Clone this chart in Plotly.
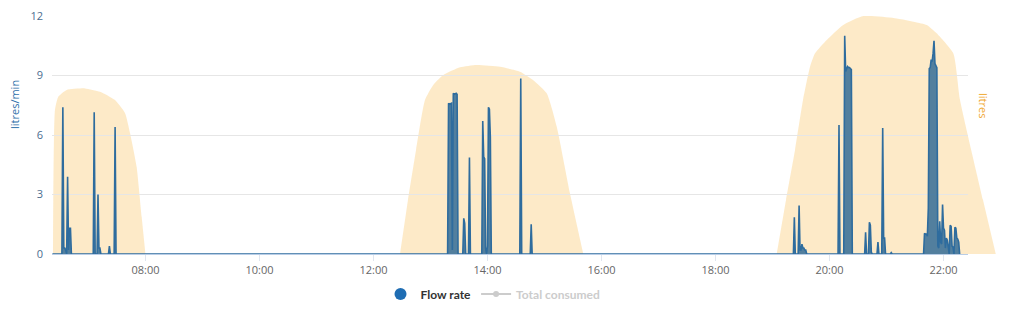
import plotly.graph_objects as go

DAY = "2024-05-14 "

# ---- Flow rate (litres/min) ----
flow_times = [
    "06:22", "06:32", "06:33", "06:34", "06:35", "06:36", "06:37", "06:38", "06:39", "06:40", "06:41", "06:42",
    "07:05", "07:06", "07:07", "07:09", "07:10", "07:11", "07:12", "07:13",
    "07:21", "07:22", "07:23", "07:27", "07:28", "07:29",
    "13:18", "13:19", "13:20", "13:21", "13:22", "13:23", "13:24", "13:25", "13:26", "13:27", "13:28", "13:29",
    "13:34", "13:35", "13:36", "13:37", "13:40", "13:41", "13:42",
    "13:54", "13:55", "13:56", "13:57", "13:58", "13:59", "14:00", "14:01", "14:02", "14:03", "14:04",
    "14:34", "14:35", "14:36", "14:45", "14:46", "14:47",
    "19:22", "19:23", "19:24", "19:27", "19:28", "19:29", "19:30", "19:31", "19:32", "19:33", "19:34", "19:35", "19:36",
    "20:09", "20:10", "20:11", "20:15", "20:16", "20:17", "20:18", "20:19", "20:20", "20:21", "20:22", "20:23", "20:24",
    "20:37", "20:38", "20:39", "20:41", "20:42", "20:43", "20:44", "20:45",
    "20:50", "20:51", "20:52", "20:55", "20:56", "20:57", "20:58", "20:59",
    "21:04", "21:05", "21:06",
    "21:39", "21:40", "21:41", "21:42", "21:43", "21:44", "21:45", "21:46", "21:47", "21:48", "21:49", "21:50",
    "21:51", "21:52", "21:53", "21:54", "21:55", "21:56", "21:57", "21:58", "21:59", "22:00", "22:01", "22:02",
    "22:03", "22:04", "22:05", "22:06", "22:07", "22:08", "22:09", "22:10", "22:11", "22:12", "22:13", "22:14",
    "22:15", "22:16", "22:17",
]
flow_values = [
    0, 0, 7.4, 0.3, 0.3, 0.2, 0, 3.9, 0.2, 1.3, 1.3, 0,
    0, 7.15, 0, 0, 3.0, 0.3, 0.3, 0,
    0, 0.4, 0, 0, 6.4, 0,
    0, 7.6, 7.55, 7.6, 7.6, 0.2, 8.1, 8.05, 8.1, 8.1, 8.05, 0,
    0, 1.8, 1.55, 0, 0, 4.86, 0,
    0, 6.7, 4.9, 4.8, 0.3, 0, 0.4, 7.4, 7.3, 5.9, 0,
    0, 8.85, 0, 0, 1.5, 0,
    0, 1.85, 0, 0, 2.45, 0.2, 0.2, 0.5, 0.3, 0.3, 0.2, 0.2, 0,
    0, 6.5, 0, 0, 11.0, 9.2, 9.35, 9.45, 9.4, 9.4, 9.35, 9.3, 0,
    0, 1.1, 0, 0, 1.6, 1.45, 0.1, 0,
    0, 0.6, 0, 0, 6.35, 0.8, 0.8, 0,
    0, 0.07, 0,
    0, 1.05, 1.0, 1.0, 0.9, 2.3, 9.35, 9.4, 9.8, 9.7, 10.1, 10.75,
    9.6, 9.5, 9.4, 0.4, 0.3, 1.65, 0.6, 0.5, 2.5, 1.3, 1.2, 0.3,
    0.8, 0.7, 0.2, 0, 1.45, 1.4, 0.4, 0.35, 0, 1.35, 1.3, 0.8,
    0.75, 0.6, 0,
]

# ---- Total consumed (litres), three usage periods ----
total_morning_times = [
    "06:22:36", "06:24:42", "06:28:12", "06:37:00", "06:56:18", "07:12:06", "07:27:54", "07:38:24",
    "07:43:42", "07:50:42", "07:56:00", "07:59:54",
]
total_morning_values = [0, 7.26, 7.93, 8.27, 8.35, 8.18, 7.76, 7.11, 6.1, 4.39, 1.86, 0]

total_midday_times = [
    "12:27:54", "12:36:18", "12:44:46", "12:54:12", "13:02:54", "13:13:30", "13:31:06", "13:48:36",
    "14:13:12", "14:34:12", "14:47:54", "15:02:18", "15:12:54", "15:26:48", "15:40:48",
]
total_midday_values = [0, 2.72, 5.24, 7.76, 8.52, 9.02, 9.41, 9.53, 9.44, 9.19, 8.77, 8.1, 6.42, 3.06, 0]

total_evening_times = [
    "19:04:24", "19:14:13", "19:23:42", "19:32:06", "19:39:30", "19:44:48", "19:57:06", "20:14:30",
    "20:35:36", "21:10:42", "21:42:18", "21:52:48", "22:10:18", "22:17:24", "22:41:36", "22:55:00",
]
total_evening_values = [0, 2.72, 5.24, 7.76, 9.44, 10.12, 10.79, 11.55, 12.0, 11.88, 11.55, 11.13,
                        10.12, 7.76, 2.72, 0]

x_tick_hours = [8, 10, 12, 14, 16, 18, 20, 22]
x_tick_labels = ["08:00", "10:00", "12:00", "14:00", "16:00", "18:00", "20:00", "22:00"]
y_ticks = [0, 3, 6, 9, 12]

W, H = 1024, 318
PX_PER_HOUR = 57.0
X8 = 145.5  # pixel position of 08:00


def px_to_time(px):
    h = 8 + (px - X8) / PX_PER_HOUR
    s = int(round(h * 3600))
    return DAY + "%02d:%02d:%02d" % (s // 3600, (s % 3600) // 60, s % 60)


left_px, right_px, area_right_px = 52, 968, 998
top_px, bottom_px = 16, 254
ydom = [(H - bottom_px) / H, (H - top_px) / H]

fig = go.Figure()

for tt, vv in [(total_morning_times, total_morning_values),
               (total_midday_times, total_midday_values),
               (total_evening_times, total_evening_values)]:
    fig.add_trace(go.Scatter(
        x=[DAY + t for t in tt], y=vv, xaxis="x", yaxis="y",
        mode="lines", line=dict(width=0, shape="spline", smoothing=0.5, color="rgba(252,215,150,0)"),
        fill="tozeroy", fillcolor="rgba(252,214,150,0.52)", showlegend=False, hoverinfo="skip",
    ))

fig.add_trace(go.Scatter(
    x=[DAY + t for t in flow_times], y=flow_values, xaxis="x2", yaxis="y2",
    mode="lines", line=dict(width=1.6, color="#2e6c9e"),
    fill="tozeroy", fillcolor="rgba(52,108,150,0.85)", showlegend=False, hoverinfo="skip",
))

fig.add_trace(go.Scatter(
    x=[None], y=[None], xaxis="x2", yaxis="y2", name="Flow rate",
    mode="markers", marker=dict(symbol="circle", size=12, color="#1f6db3"),
))
fig.add_trace(go.Scatter(
    x=[None], y=[None], xaxis="x2", yaxis="y2",
    name='<span style="color:#cccccc">Total consumed</span>',
    mode="lines+markers", line=dict(color="#cccccc", width=2), marker=dict(size=6, color="#cccccc"),
))

font = "Open Sans, Segoe UI, DejaVu Sans, sans-serif"

fig.update_layout(
    width=W, height=H, margin=dict(l=0, r=0, t=0, b=0, autoexpand=False),
    paper_bgcolor="white", plot_bgcolor="rgba(0,0,0,0)",
    font=dict(family=font, size=11, color="#666666"),
    xaxis=dict(domain=[left_px / W, area_right_px / W], range=[px_to_time(left_px), px_to_time(area_right_px)],
               type="date", visible=False, anchor="y", automargin=False),
    yaxis=dict(domain=ydom, range=[0, 12], visible=False, anchor="x", automargin=False),
    xaxis2=dict(domain=[left_px / W, right_px / W], range=[px_to_time(left_px), px_to_time(right_px)],
                type="date", anchor="y2", automargin=False,
                tickvals=[DAY + "%02d:00" % h for h in x_tick_hours], ticktext=x_tick_labels,
                ticks="outside", ticklen=6, tickcolor="#e0e6f0", tickfont=dict(size=11, color="#666666"),
                showgrid=False, showline=True, linecolor="#b9cde6", linewidth=1, zeroline=False),
    yaxis2=dict(domain=ydom, range=[0, 12], anchor="x2", automargin=False,
                tickvals=y_ticks, tickfont=dict(size=11, color="#4b6d8f"),
                showgrid=True, gridcolor="#e6e6e6", gridwidth=1, zeroline=False, showline=False,
                ticklabelstandoff=8),
    legend=dict(orientation="h", x=493 / W, xanchor="center", y=(H - 294) / H, yanchor="middle",
                font=dict(family="Lato, Open Sans, sans-serif", size=12, color="#333333", weight="bold"),
                bgcolor="rgba(0,0,0,0)", itemwidth=30),
    annotations=[
        dict(text="litres/min", textangle=-90, x=14 / W, y=(H - 105) / H, xref="paper", yref="paper",
             xanchor="center", yanchor="middle",
             showarrow=False, font=dict(size=11, color="#2f70aa")),
        dict(text="litres", textangle=90, x=984 / W, y=(H - 105) / H, xref="paper", yref="paper",
             xanchor="center", yanchor="middle",
             showarrow=False, font=dict(size=11, color="#f0a830")),
    ],
)

fig.write_html("out.html")
